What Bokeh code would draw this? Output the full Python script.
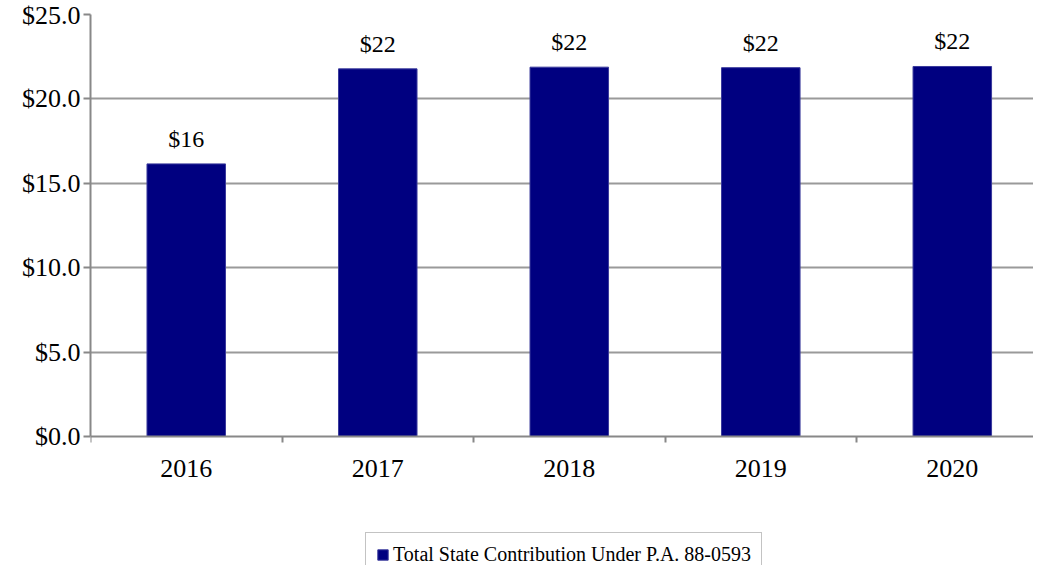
from bokeh.plotting import figure
from bokeh.models import ColumnDataSource, FixedTicker, Legend, LegendItem, NumeralTickFormatter, Range1d
from bokeh.core.properties import value
from bokeh.embed import file_html
from bokeh.resources import INLINE

years = ["2016", "2017", "2018", "2019", "2020"]
contrib = [16.15, 21.78, 21.88, 21.85, 21.92]
series_name = "Total State Contribution Under P.A. 88-0593"
y_ticks = [0, 5, 10, 15, 20, 25]

FONT = "Liberation Serif"
pos = [i + 0.5 for i in range(len(years))]
labels = ["$%d" % round(v) for v in contrib]
src = ColumnDataSource(dict(x=pos, top=contrib, label=labels))

p = figure(width=1033, height=565, output_backend="svg", toolbar_location=None,
           x_range=Range1d(0, 4.924), y_range=Range1d(-7.64, 25),
           min_border_left=90, min_border_right=0, min_border_top=14, min_border_bottom=0)
p.outline_line_color = None
p.background_fill_color = "white"
p.border_fill_color = "white"

bars = p.vbar(x="x", top="top", width=0.41, bottom=0, source=src,
              fill_color="#000080", line_color="#3a3a9c", line_width=1)
p.text(x="x", y="top", text="label", source=src, text_align="center",
       text_baseline="alphabetic", y_offset=-25, text_font=value(FONT),
       text_font_size="24px", text_color="black")

# x axis, drawn at y = 0 inside the extended frame
p.xaxis.fixed_location = 0
p.xaxis.ticker = FixedTicker(ticks=pos, minor_ticks=list(range(len(years) + 1)))
p.xaxis.major_label_overrides = {pv: y for pv, y in zip(pos, years)}
p.xaxis.major_tick_out = 0
p.xaxis.major_tick_in = 0
p.xaxis.minor_tick_out = 6
p.xaxis.minor_tick_in = 0
p.xaxis.minor_tick_line_color = "#888888"
p.xaxis.minor_tick_line_width = 2
p.xaxis.axis_line_color = "#888888"
p.xaxis.axis_line_width = 2
p.xaxis.major_label_text_font = FONT
p.xaxis.major_label_text_font_size = "26px"
p.xaxis.major_label_text_color = "black"
p.xaxis.major_label_standoff = 17

# y axis
p.yaxis.ticker = FixedTicker(ticks=y_ticks, minor_ticks=[])
p.yaxis.bounds = (0, 25)
p.yaxis.formatter = NumeralTickFormatter(format="$0.0")
p.yaxis.major_tick_out = 7
p.yaxis.major_tick_in = 0
p.yaxis.major_tick_line_color = "#888888"
p.yaxis.major_tick_line_width = 2
p.yaxis.axis_line_color = "#888888"
p.yaxis.axis_line_width = 2
p.yaxis.major_label_text_font = FONT
p.yaxis.major_label_text_font_size = "26px"
p.yaxis.major_label_text_color = "black"
p.yaxis.major_label_standoff = 3
p.yaxis.minor_tick_line_color = None

p.xgrid.grid_line_color = None
p.ygrid.ticker = FixedTicker(ticks=y_ticks[1:])
p.ygrid.grid_line_color = "#9a9a9a"
p.ygrid.grid_line_width = 2

legend = Legend(items=[LegendItem(label=series_name, renderers=[bars])],
                location=(275, -12), orientation="horizontal",
                padding=10, glyph_width=13, glyph_height=13, label_standoff=4,
                label_text_font=FONT, label_text_font_size="20px",
                label_text_color="black", border_line_color="#888888",
                border_line_width=1, background_fill_color="white",
                background_fill_alpha=1.0, margin=0)
p.add_layout(legend, "center")

open("out.html", "w").write(file_html(p, INLINE))
